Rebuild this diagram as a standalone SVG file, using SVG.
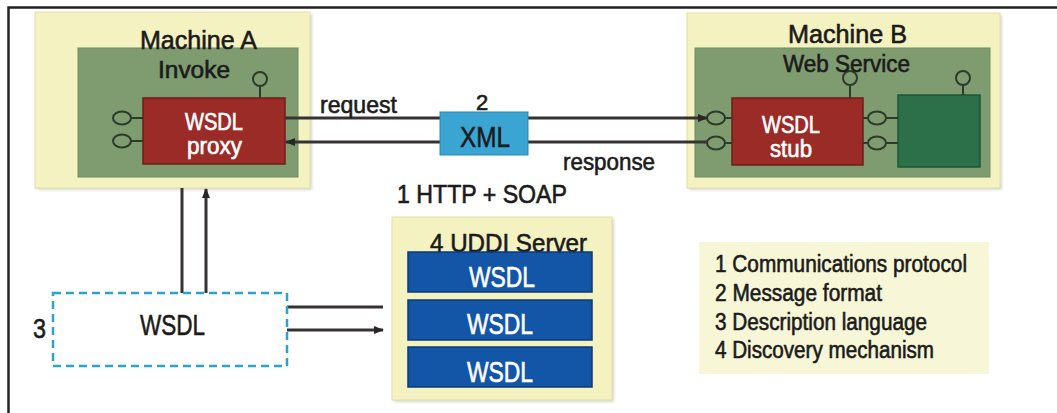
<svg xmlns="http://www.w3.org/2000/svg" width="1057" height="413" viewBox="0 0 1057 413">
  <style>
    text { font-family: "Liberation Sans", Arial, sans-serif; fill: #1c1b1b; stroke: #1c1b1b; stroke-width: 0.6; }
    .w { fill: #ffffff; stroke: #ffffff; }
    .host { fill: #f5f2c2; stroke: #e2dea6; stroke-width: 1; }
    .shadow { fill: #d8d8d0; filter: url(#soft); }
    .inner { fill: #7e9c70; stroke: #6d8c60; stroke-width: 1; }
    .red { fill: #9a2b27; stroke: #6f1e1b; stroke-width: 1.5; }
    .blue { fill: #1356a7; stroke: #0b3a78; stroke-width: 1.5; }
    .port { fill: none; stroke: #2e3a2a; stroke-width: 2; }
    .stem { stroke: #2e3a2a; stroke-width: 2; }
    .link { stroke: #363232; stroke-width: 3; fill: none; }
    .dash { fill: #ffffff; stroke: #2ba4cb; stroke-width: 2.5; stroke-dasharray: 8 5; }
  </style>
  <defs>
    <filter id="soft" x="-5%" y="-5%" width="110%" height="110%">
      <feGaussianBlur stdDeviation="1.5"/>
    </filter>
    <marker id="arrow" viewBox="0 0 10 8" refX="9" refY="4" markerWidth="10" markerHeight="8" markerUnits="userSpaceOnUse" orient="auto">
      <path d="M0,0 L10,4 L0,8 Z" fill="#2a2626"/>
    </marker>
  </defs>

  <rect width="1057" height="413" fill="#ffffff"/>

  <!-- outer frame: top and left rules -->
  <path d="M8.5,413 V7.5 H1057" fill="none" stroke="#222222" stroke-width="2.5"/>

  <!-- Machine A: client with WSDL proxy -->
  <g id="machine-a">
    <rect class="shadow" x="37" y="14" width="275" height="176"/>
    <rect class="host" x="35" y="12" width="275" height="176"/>
    <rect class="inner" x="78" y="48" width="220" height="129"/>
    <rect class="red" x="143" y="98" width="142" height="66"/>
    <line class="stem" x1="131" y1="118" x2="143" y2="118"/>
    <line class="stem" x1="131" y1="141" x2="143" y2="141"/>
    <ellipse class="port" cx="122" cy="118" rx="9" ry="6.5"/>
    <ellipse class="port" cx="122" cy="141" rx="9" ry="6.5"/>
    <line class="stem" x1="260" y1="86" x2="260" y2="98"/>
    <circle class="port" cx="260" cy="79" r="7"/>
    <text x="198.5" y="49" font-size="26" text-anchor="middle" textLength="117" lengthAdjust="spacingAndGlyphs">Machine A</text>
    <text x="194" y="78" font-size="23" text-anchor="middle" textLength="72" lengthAdjust="spacingAndGlyphs">Invoke</text>
    <text class="w" x="214" y="130" font-size="23" text-anchor="middle" textLength="58" lengthAdjust="spacingAndGlyphs">WSDL</text>
    <text class="w" x="214.5" y="154" font-size="23" text-anchor="middle" textLength="55" lengthAdjust="spacingAndGlyphs">proxy</text>
  </g>

  <!-- Machine B: web service with WSDL stub -->
  <g id="machine-b">
    <rect class="shadow" x="689" y="15" width="313" height="175"/>
    <rect class="host" x="687" y="13" width="313" height="175"/>
    <rect class="inner" x="695" y="48" width="295" height="129"/>
    <rect class="red" x="732" y="98" width="131" height="67"/>
    <rect x="898" y="95" width="82" height="72" fill="#2b7049" stroke="#1f5536" stroke-width="1.5"/>
    <line class="stem" x1="725" y1="118" x2="732" y2="118"/>
    <line class="stem" x1="725" y1="143" x2="732" y2="143"/>
    <ellipse class="port" cx="716" cy="118" rx="9" ry="6.5"/>
    <ellipse class="port" cx="716" cy="143" rx="9" ry="6.5"/>
    <line class="stem" x1="863" y1="118" x2="868" y2="118"/>
    <line class="stem" x1="863" y1="143" x2="868" y2="143"/>
    <line class="stem" x1="886" y1="118" x2="898" y2="118"/>
    <line class="stem" x1="886" y1="143" x2="898" y2="143"/>
    <ellipse class="port" cx="877" cy="118" rx="9" ry="6.5"/>
    <ellipse class="port" cx="877" cy="143" rx="9" ry="6.5"/>
    <line class="stem" x1="850" y1="85" x2="850" y2="98"/>
    <circle class="port" cx="850" cy="78" r="7"/>
    <line class="stem" x1="963" y1="85" x2="963" y2="95"/>
    <circle class="port" cx="963" cy="78" r="7"/>
    <text x="847.5" y="43" font-size="25" text-anchor="middle" textLength="119" lengthAdjust="spacingAndGlyphs">Machine B</text>
    <text x="846.5" y="72" font-size="23" text-anchor="middle" textLength="127" lengthAdjust="spacingAndGlyphs">Web Service</text>
    <text class="w" x="791" y="133" font-size="23" text-anchor="middle" textLength="58" lengthAdjust="spacingAndGlyphs">WSDL</text>
    <text class="w" x="791" y="157" font-size="23" text-anchor="middle" textLength="42" lengthAdjust="spacingAndGlyphs">stub</text>
  </g>

  <!-- request / response connectors and the other links -->
  <g id="connectors">
    <line class="link" x1="285" y1="118" x2="707" y2="118" marker-end="url(#arrow)"/>
    <line class="link" x1="707" y1="142" x2="286" y2="142" marker-end="url(#arrow)"/>
    <line class="link" x1="182" y1="188" x2="182" y2="293"/>
    <line class="link" x1="206" y1="293" x2="206" y2="189" marker-end="url(#arrow)"/>
    <line class="link" x1="287" y1="307" x2="383" y2="307"/>
    <line class="link" x1="287" y1="330" x2="383" y2="330" marker-end="url(#arrow)"/>
  </g>

  <!-- XML message -->
  <g id="xml">
    <rect x="440" y="112" width="88" height="43" fill="#3aa5d3" stroke="#2a86b0" stroke-width="1"/>
    <text x="485" y="147" font-size="30" text-anchor="middle" textLength="50" lengthAdjust="spacingAndGlyphs">XML</text>
  </g>

  <!-- connector labels -->
  <g id="labels">
    <text x="320" y="113" font-size="24" textLength="77" lengthAdjust="spacingAndGlyphs">request</text>
    <text x="482" y="110" font-size="22" text-anchor="middle">2</text>
    <text x="563" y="170" font-size="24" textLength="92" lengthAdjust="spacingAndGlyphs">response</text>
    <text x="397" y="203" font-size="25" textLength="170" lengthAdjust="spacingAndGlyphs">1 HTTP + SOAP</text>
    <text x="33" y="338" font-size="28" textLength="13" lengthAdjust="spacingAndGlyphs">3</text>
  </g>

  <!-- WSDL description document -->
  <g id="wsdl-doc">
    <rect class="dash" x="53" y="293" width="234" height="73"/>
    <text x="172.5" y="335" font-size="30" text-anchor="middle" textLength="65" lengthAdjust="spacingAndGlyphs">WSDL</text>
  </g>

  <!-- UDDI registry -->
  <g id="uddi">
    <rect class="shadow" x="394" y="219" width="220" height="183"/>
    <rect class="host" x="392" y="217" width="220" height="183"/>
    <text x="430" y="252" font-size="26" textLength="157" lengthAdjust="spacingAndGlyphs">4 UDDI Server</text>
    <rect class="blue" x="408" y="252" width="184" height="40"/>
    <rect class="blue" x="408" y="300" width="184" height="40"/>
    <rect class="blue" x="408" y="347" width="184" height="40"/>
    <text class="w" x="502" y="287" font-size="29" text-anchor="middle" textLength="66" lengthAdjust="spacingAndGlyphs">WSDL</text>
    <text class="w" x="500" y="334" font-size="29" text-anchor="middle" textLength="66" lengthAdjust="spacingAndGlyphs">WSDL</text>
    <text class="w" x="500" y="382" font-size="29" text-anchor="middle" textLength="66" lengthAdjust="spacingAndGlyphs">WSDL</text>
  </g>

  <!-- key -->
  <g id="legend">
    <rect x="699" y="242" width="290" height="132" fill="#f7f7d8" stroke="none"/>
    <text x="715" y="272" font-size="23" textLength="252" lengthAdjust="spacingAndGlyphs">1 Communications protocol</text>
    <text x="715" y="301" font-size="23" textLength="167" lengthAdjust="spacingAndGlyphs">2 Message format</text>
    <text x="715" y="330" font-size="23" textLength="212" lengthAdjust="spacingAndGlyphs">3 Description language</text>
    <text x="715" y="358" font-size="23" textLength="219" lengthAdjust="spacingAndGlyphs">4 Discovery mechanism</text>
  </g>
</svg>
